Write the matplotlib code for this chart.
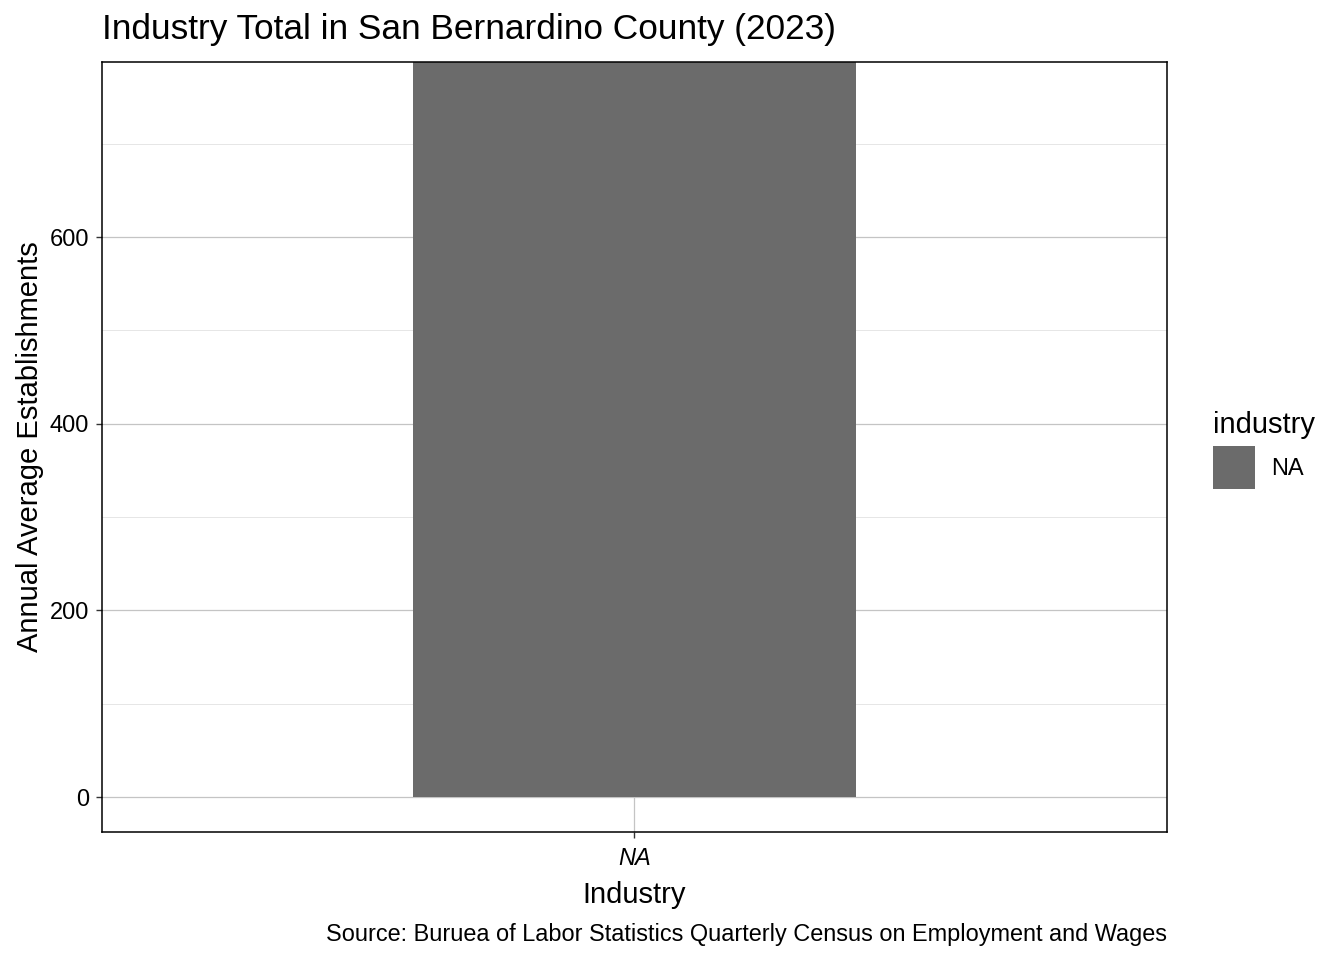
import matplotlib
matplotlib.use("Agg")
import matplotlib.pyplot as plt

plt.rcParams['font.family'] = ['Liberation Sans', 'DejaVu Sans']

categories = ["NA"]
establishments = [787]
y_ticks = [0, 200, 400, 600]
y_minor = [100, 300, 500, 700]

W, H = 1344, 960
fig = plt.figure(figsize=(W / 100, H / 100), dpi=100)
L, R, T, B = 102, 1167, 62, 832
ax = fig.add_axes([L / W, 1 - B / H, (R - L) / W, (B - T) / H])

xpos = list(range(1, len(categories) + 1))
bars = ax.bar(xpos, establishments, width=0.5, color="#6B6B6B", label=categories[0], zorder=2)

ax.set_xlim(0.4, len(categories) + 0.6)
ax.set_ylim(-37.5, 787.5)
ax.set_yticks(y_ticks)
ax.set_yticks(y_minor, minor=True)
ax.set_xticks(xpos)
ax.set_xticklabels(categories, fontstyle="italic")

ax.grid(True, which="major", axis="both", color="#C4C4C4", linewidth=0.9, zorder=0)
ax.grid(True, which="minor", axis="y", color="#E6E6E6", linewidth=0.7, zorder=0)
ax.set_axisbelow(True)
for s in ax.spines.values():
    s.set_color("black")
    s.set_linewidth(1.1)
ax.tick_params(axis="both", which="major", length=4.5, width=1, color="#333333",
               labelsize=17, labelcolor="black", pad=5)
ax.tick_params(axis="x", which="major", pad=6.5)
ax.tick_params(axis="y", which="minor", length=0)

ax.set_xlabel("Industry", fontsize=21, labelpad=8)
ax.set_ylabel("Annual Average Establishments", fontsize=21, labelpad=4)

fig.text(L / W, 1 - 30 / H, "Industry Total in San Bernardino County (2023)",
         fontsize=25.4, ha="left", va="center")
fig.text(R / W, 1 - 934 / H,
         "Source: Buruea of Labor Statistics Quarterly Census on Employment and Wages",
         fontsize=16.9, ha="right", va="center")

leg = fig.legend(handles=[bars], labels=categories, loc="upper left",
                 bbox_to_anchor=(1194 / W, 1 - 392 / H), frameon=False,
                 title="industry", title_fontsize=21, fontsize=17,
                 handlelength=1.78, handleheight=2.45, handletextpad=0.7,
                 borderpad=0.3, labelspacing=0.3)
leg._legend_box.align = "left"

fig.savefig("out.png", dpi=100)
